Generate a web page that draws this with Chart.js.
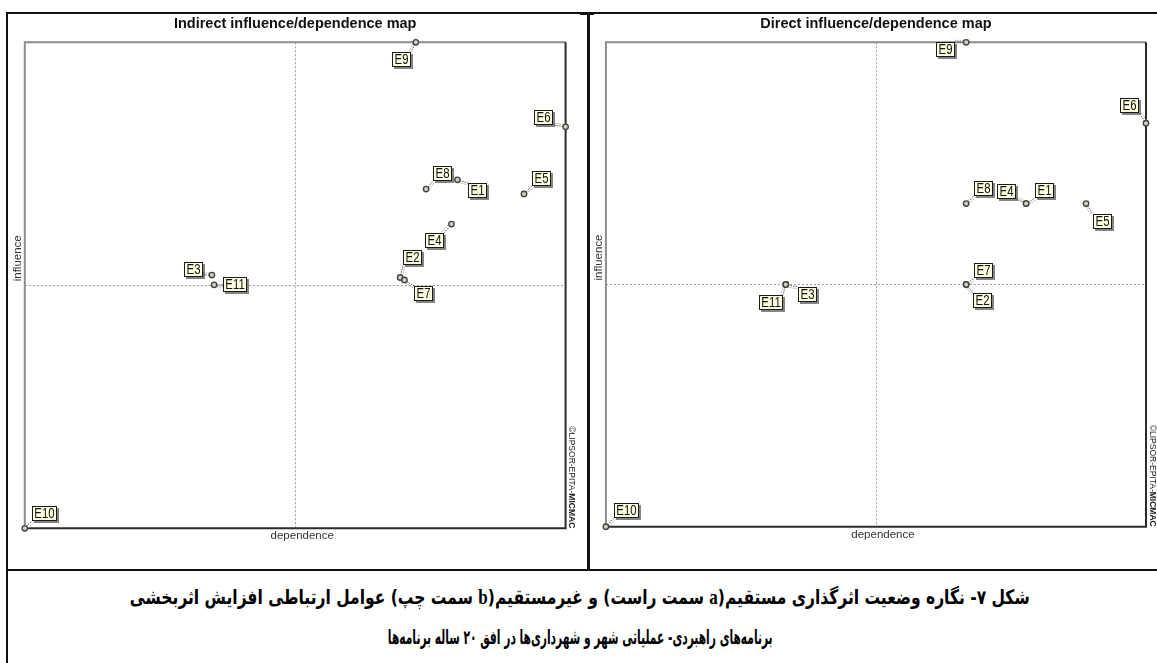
<!DOCTYPE html>
<html>
<head>
<meta charset="utf-8">
<script src="https://cdn.jsdelivr.net/npm/chart.js@4.4.1/dist/chart.umd.min.js"></script>
<style>
  html, body { margin: 0; padding: 0; background: #fff; }
  body { width: 1157px; height: 663px; position: relative; overflow: hidden; }
  .rule { position: absolute; background: #111; }
  canvas { position: absolute; }
  .capline {
    position: absolute; left: 0; width: 1160px; height: 41px;
    direction: rtl; text-align: center; white-space: nowrap;
    font-family: "DejaVu Sans", sans-serif; font-weight: bold; font-size: 20px;
    line-height: 41px; color: #000;
  }
  .capline span.txt { display: inline-block; transform-origin: 50% 50%; }
  .lat { font-family: "Liberation Serif", serif; font-size: 22px; }
</style>
</head>
<body>
<div class="rule" style="left:6px;top:12px;width:1151px;height:2px"></div>
<div class="rule" style="left:6px;top:12px;width:2px;height:651px"></div>
<div class="rule" style="left:587px;top:12px;width:3px;height:559px"></div>
<div class="rule" style="left:580px;top:12px;width:14px;height:3px"></div>
<div class="rule" style="left:6px;top:569px;width:1151px;height:2px"></div>

<canvas id="indirectMap" width="578" height="555" style="left:8px;top:14px"></canvas>
<canvas id="directMap" width="567" height="555" style="left:590px;top:14px"></canvas>

<div class="capline" style="top:576px"><span class="txt" data-w="900">شکل ۷- نگاره وضعیت اثرگذاری مستقیم(<span class="lat">a</span> سمت راست) و غیرمستقیم(<span class="lat">b</span> سمت چپ) عوامل ارتباطی افزایش اثربخشی</span></div>
<div class="capline" style="top:617px"><span class="txt" data-w="385">برنامه‌های راهبردی- عملیاتی شهر و شهرداری‌ها در افق ۲۰ ساله برنامه‌ها</span></div>

<script>
// Variables E1..E11, positions as % of each axis range (0 = min, 100 = max)
const labelNames = ['E1', 'E2', 'E3', 'E4', 'E5', 'E6', 'E7', 'E8', 'E9', 'E10', 'E11'];

const indirectDependence = [80.0, 69.4, 34.6, 78.9, 92.3, 100, 70.2, 74.2, 72.3, 0, 35.0];
const indirectInfluence  = [71.7, 51.6, 52.1, 62.6, 68.8, 82.6, 51.1, 69.8, 100, 0, 50.1];

const directDependence = [77.8, 66.7, 33.3, 77.8, 88.9, 100, 66.7, 66.7, 66.7, 0, 33.3];
const directInfluence  = [66.7, 50, 50, 66.7, 66.7, 83.3, 50, 66.7, 100, 0, 50];

// axes cross at the mean
const meanDependence = 50;
const meanInfluence = 50;

// where each label box sits relative to its point (top-left corner, px)
const indirectLabelOffsets = {
  E1: [11, 3], E2: [3, -28], E3: [-28, -13], E4: [-26, 9], E5: [8, -23], E6: [-32, -17],
  E7: [10, 6], E8: [7, -23], E9: [-24, 10], E10: [7, -22], E11: [9, -8]
};
const directLabelOffsets = {
  E1: [9, -21], E2: [7, 9], E3: [12, 3], E4: [-29, -20], E5: [7, 10], E6: [-26, -25],
  E7: [8, -21], E8: [8, -23], E9: [-30, 0], E10: [8, -24], E11: [-27, 11]
};

const LABEL_FONT = '15px "Liberation Sans", Arial, sans-serif';
const LABEL_SQUEEZE = 0.76;

function labelBox(ctx, name, pt, off) {
  ctx.font = LABEL_FONT;
  const w = Math.round(ctx.measureText(name).width * LABEL_SQUEEZE) + 5;
  const h = 15;
  const bx = Math.round(pt.x + off[0]), by = Math.round(pt.y + off[1]);
  return { bx, by, w, h };
}

// frame, mean lines, axis titles, leader lines, label boxes
const mapPlugin = {
  id: 'mapLabels',
  beforeDatasetsDraw(chart, args, opts) {
    const { ctx, chartArea: a, scales: { x, y } } = chart;
    ctx.save();

    // mean lines
    ctx.strokeStyle = '#9a9a9a';
    ctx.lineWidth = 1;
    ctx.setLineDash([2, 2]);
    const mx = Math.round(x.getPixelForValue(meanDependence)) + 0.5;
    const my = Math.round(y.getPixelForValue(meanInfluence)) + 0.5;
    ctx.beginPath();
    ctx.moveTo(mx, a.top); ctx.lineTo(mx, a.bottom);
    ctx.moveTo(a.left, my); ctx.lineTo(a.right, my);
    ctx.stroke();
    ctx.setLineDash([]);

    // plot frame: light top/left, dark right/bottom
    ctx.lineWidth = 2;
    ctx.strokeStyle = '#8c8c8c';
    ctx.beginPath();
    ctx.moveTo(a.left, a.bottom); ctx.lineTo(a.left, a.top); ctx.lineTo(a.right, a.top);
    ctx.stroke();
    ctx.strokeStyle = '#2b2b2b';
    ctx.beginPath();
    ctx.moveTo(a.right, a.top); ctx.lineTo(a.right, a.bottom); ctx.lineTo(a.left, a.bottom);
    ctx.stroke();

    // axis titles
    ctx.fillStyle = '#333';
    ctx.font = '11.5px "Liberation Sans", Arial, sans-serif';
    ctx.textAlign = 'center';
    ctx.textBaseline = 'middle';
    ctx.fillText('dependence', (a.left + a.right) / 2 + 7, a.bottom + 8);
    ctx.save();
    ctx.translate(a.left - 7, (a.top + a.bottom) / 2 - 27);
    ctx.rotate(-Math.PI / 2);
    ctx.fillText('influence', 0, 0);
    ctx.restore();

    // copyright, rotated along the right edge
    ctx.save();
    ctx.translate(a.right + 6, a.bottom);
    ctx.rotate(Math.PI / 2);
    ctx.fillStyle = '#222';
    ctx.textAlign = 'right';
    ctx.font = 'bold 8.5px "Liberation Sans", Arial, sans-serif';
    const boldW = ctx.measureText('MICMAC').width;
    ctx.fillText('MICMAC', 0, 0);
    ctx.font = '8.5px "Liberation Sans", Arial, sans-serif';
    ctx.fillText('©LIPSOR-EPITA-', -boldW, 0);
    ctx.restore();

    // leader lines from point to its label (dotted, doubled)
    const meta = chart.getDatasetMeta(0);
    meta.data.forEach((pt, i) => {
      const name = labelNames[i];
      const b = labelBox(ctx, name, pt, opts.offsets[name]);
      const tx = Math.min(Math.max(pt.x, b.bx), b.bx + b.w);
      const ty = Math.min(Math.max(pt.y, b.by), b.by + b.h);
      const len = Math.hypot(tx - pt.x, ty - pt.y) || 1;
      const nx = -(ty - pt.y) / len * 2, ny = (tx - pt.x) / len * 2;
      ctx.lineWidth = 1;
      ctx.setLineDash([1.5, 1]);
      ctx.strokeStyle = '#a8a8a8';
      ctx.beginPath();
      ctx.moveTo(pt.x + nx, pt.y + ny); ctx.lineTo(tx + nx, ty + ny);
      ctx.stroke();
      ctx.strokeStyle = '#5e5e5e';
      ctx.beginPath();
      ctx.moveTo(pt.x, pt.y); ctx.lineTo(tx, ty);
      ctx.stroke();
    });
    ctx.setLineDash([]);
    ctx.restore();
  },
  afterDatasetsDraw(chart, args, opts) {
    const { ctx } = chart;
    const meta = chart.getDatasetMeta(0);
    ctx.save();
    meta.data.forEach((pt, i) => {
      const name = labelNames[i];
      const b = labelBox(ctx, name, pt, opts.offsets[name]);
      ctx.fillStyle = 'rgba(50,50,50,0.6)';
      ctx.fillRect(b.bx + 2, b.by + 2, b.w, b.h);
      ctx.fillStyle = '#ffffe1';
      ctx.fillRect(b.bx, b.by, b.w, b.h);
      ctx.strokeStyle = '#1a1a1a';
      ctx.lineWidth = 1;
      ctx.strokeRect(b.bx + 0.5, b.by + 0.5, b.w - 1, b.h - 1);
      ctx.save();
      ctx.translate(b.bx + b.w / 2, b.by + b.h / 2 + 0.5);
      ctx.scale(LABEL_SQUEEZE, 1);
      ctx.fillStyle = '#111';
      ctx.font = LABEL_FONT;
      ctx.textAlign = 'center';
      ctx.textBaseline = 'middle';
      ctx.fillText(name, 0, 0);
      ctx.restore();
    });
    ctx.restore();
  }
};

function renderMap(canvasId, title, dependence, influence, offsets, padding) {
  const points = labelNames.map((n, i) => ({ x: dependence[i], y: influence[i] }));
  return new Chart(document.getElementById(canvasId).getContext('2d'), {
    type: 'scatter',
    data: {
      datasets: [{
        data: points,
        pointRadius: 2.7,
        pointBorderWidth: 1.4,
        pointBorderColor: '#444',
        pointBackgroundColor: '#d0d0c0',
        clip: false
      }]
    },
    options: {
      responsive: false,
      animation: false,
      devicePixelRatio: 1,
      layout: { padding: padding },
      scales: {
        x: { type: 'linear', min: 0, max: 100, display: false },
        y: { type: 'linear', min: 0, max: 100, display: false }
      },
      plugins: {
        legend: { display: false },
        tooltip: { enabled: false },
        title: {
          display: true,
          text: title,
          color: '#111',
          font: { family: '"Liberation Sans", Arial, sans-serif', size: 14.5, weight: 'bold' },
          padding: { top: 1.3, bottom: 9.6 }
        },
        mapLabels: { offsets: offsets }
      }
    },
    plugins: [mapPlugin]
  });
}

renderMap('indirectMap', 'Indirect influence/dependence map', indirectDependence, indirectInfluence,
  indirectLabelOffsets, { left: 16.8, right: 20.4, top: 0, bottom: 40.7 });
renderMap('directMap', 'Direct influence/dependence map', directDependence, directInfluence,
  directLabelOffsets, { left: 15.9, right: 11, top: 0, bottom: 42.3 });

// squeeze each caption line to the width it has in the figure
document.querySelectorAll('.capline span.txt').forEach(s => {
  const w = s.getBoundingClientRect().width;
  s.style.transform = 'scaleX(' + (Number(s.dataset.w) / w).toFixed(3) + ')';
});
</script>
</body>
</html>
